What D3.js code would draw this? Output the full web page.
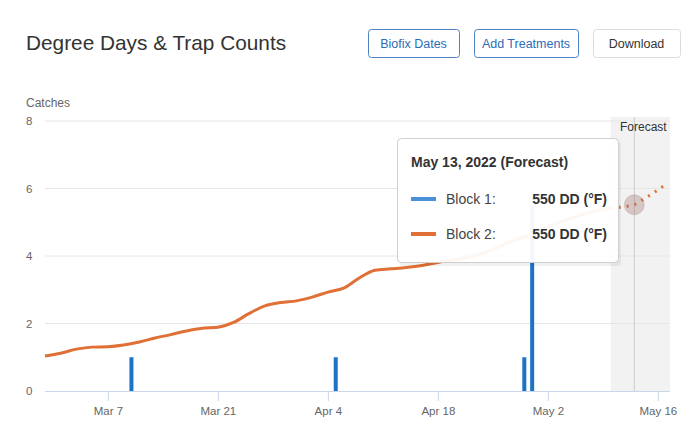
<!DOCTYPE html>
<html><head><meta charset="utf-8">
<script src="https://cdn.jsdelivr.net/npm/d3@7"></script>
<style>
body{margin:0;background:#fff;font-family:"Liberation Sans",Arial,Helvetica,sans-serif;}
svg{display:block;}
</style></head>
<body>
<svg id="chart" width="700" height="445"></svg>
<script>
// ---- data ----
const title = "Degree Days & Trap Counts";
const buttons = ["Biofix Dates", "Add Treatments", "Download"];
const yTicks = [0, 2, 4, 6, 8];
const xTickDates = ["2022-03-07", "2022-03-21", "2022-04-04", "2022-04-18", "2022-05-02", "2022-05-16"];
const trapDates = ["2022-03-10", "2022-04-05", "2022-04-29", "2022-04-30"];
const trapCounts = [1, 1, 1, 5.5];
const ddDates = ["2022-02-27","2022-03-01","2022-03-03","2022-03-05","2022-03-07","2022-03-09","2022-03-11","2022-03-13","2022-03-15","2022-03-17","2022-03-19","2022-03-21","2022-03-23","2022-03-25","2022-03-27","2022-03-29","2022-03-31","2022-04-02","2022-04-04","2022-04-06","2022-04-08","2022-04-10","2022-04-12","2022-04-14","2022-04-16","2022-04-18","2022-04-21","2022-04-24","2022-04-27","2022-04-30","2022-05-03","2022-05-06","2022-05-08","2022-05-10"];
const ddBlock2 = [104,112,124,130,131,136,145,157,167,178,186,189,203,230,252,262,267,278,293,305,335,358,362,366,372,381,392,410,440,465,495,520,533,542];
const ddBlock1 = ddBlock2.slice();
const fcDates = ["2022-05-10","2022-05-11","2022-05-12","2022-05-13","2022-05-14","2022-05-15","2022-05-16","2022-05-17"];
const fcBlock2 = [542,544,547,552,566,580,596,612];
const forecastStart = "2022-05-10";
const hoverDate = "2022-05-13";
const tooltipTitle = "May 13, 2022 (Forecast)";
const tooltipRows = [["Block 1:", "550 DD (°F)"], ["Block 2:", "550 DD (°F)"]];
const colors = {block1: "#4a90d9", block2: "#e07035", bars: "#1b74c5"};

// ---- setup ----
const parse = d3.timeParse("%Y-%m-%d");
const svg = d3.select("#chart");
const L = 45, R = 670, T = 121, B = 391;
const x = d3.scaleTime().domain([parse("2022-02-27"), new Date(2022, 4, 17, 13)]).range([L, R]);
const y = d3.scaleLinear().domain([0, 8]).range([B, T]);
const yDD = d3.scaleLinear().domain([0, 800]).range([B, T]);

// title
svg.append("text").attr("x", 26).attr("y", 50).attr("font-size", 20.8).attr("fill", "#333").text(title);

// buttons
const btnX = [368, 474, 593], btnW = [91, 104, 87];
buttons.forEach((b, i) => {
  const g = svg.append("g").attr("transform", `translate(${btnX[i]},29)`);
  const blue = i < 2;
  g.append("rect").attr("x", 0.5).attr("y", 0.5).attr("width", btnW[i]).attr("height", 28).attr("rx", 3)
    .attr("fill", "#fff").attr("stroke", blue ? "#4f82c0" : "#dcdcdc");
  g.append("text").attr("x", btnW[i] / 2).attr("y", 19).attr("text-anchor", "middle")
    .attr("font-size", 12.5).attr("fill", blue ? "#2d6db5" : "#333").text(b);
});

// forecast band
const fx = x(parse(forecastStart));
svg.append("rect").attr("x", fx).attr("y", 117).attr("width", R - fx).attr("height", B - 117).attr("fill", "#f2f2f2");

// grid
svg.append("g").selectAll("line").data(yTicks.filter(d => d > 0)).join("line")
  .attr("x1", L).attr("x2", R).attr("y1", d => y(d)).attr("y2", d => y(d))
  .attr("stroke", "#e6e6e6").attr("stroke-width", 1);

// y labels
svg.append("text").attr("x", 26).attr("y", 107).attr("font-size", 12).attr("fill", "#666").text("Catches");
svg.append("g").selectAll("text").data(yTicks).join("text")
  .attr("x", 26).attr("y", d => y(d) + 4).attr("font-size", 11.5).attr("fill", "#666").text(d => d);

// x axis
const xAxis = d3.axisBottom(x).tickValues(xTickDates.map(parse)).tickFormat(d3.timeFormat("%b %-d")).tickSize(10).tickPadding(6);
const gx = svg.append("g").attr("transform", `translate(0,${B})`).call(xAxis);
gx.select(".domain").attr("stroke", "#ccd6eb").attr("d", `M${L},0.5H${R}`);
gx.selectAll(".tick line").attr("stroke", "#ccd6eb");
gx.selectAll(".tick text").attr("fill", "#666").attr("font-size", 11.5).attr("font-family", "'Liberation Sans',Arial,sans-serif");

// crosshair
const hx = x(parse(hoverDate));
svg.append("line").attr("x1", hx).attr("x2", hx).attr("y1", 117).attr("y2", B).attr("stroke", "#cccccc").attr("stroke-width", 1);
svg.append("text").attr("x", 620).attr("y", 131).attr("font-size", 12).attr("fill", "#333").text("Forecast");

// bars
svg.append("g").selectAll("rect").data(trapDates.map((d, i) => ({d: parse(d), v: trapCounts[i]}))).join("rect")
  .attr("x", d => x(d.d) - 2).attr("width", 4).attr("y", d => y(d.v)).attr("height", d => B - y(d.v))
  .attr("fill", colors.bars);

// lines
const line = d3.line().x(d => x(d.d)).y(d => yDD(d.v)).curve(d3.curveMonotoneX);
const d1 = ddDates.map((d, i) => ({d: parse(d), v: ddBlock1[i]}));
const d2 = ddDates.map((d, i) => ({d: parse(d), v: ddBlock2[i]}));
const f2 = fcDates.map((d, i) => ({d: parse(d), v: fcBlock2[i]}));
svg.append("path").datum(d1).attr("d", line).attr("fill", "none").attr("stroke", colors.block1).attr("stroke-width", 1.2);
svg.append("path").datum(d2).attr("d", line).attr("fill", "none").attr("stroke", colors.block2).attr("stroke-width", 3);
svg.append("path").datum(f2).attr("d", line).attr("fill", "none").attr("stroke", colors.block2)
  .attr("stroke-width", 3).attr("stroke-dasharray", "2,6");

// hover marker
const hv = f2.find(d => +d.d === +parse(hoverDate));
svg.append("circle").attr("cx", hx).attr("cy", yDD(hv.v)).attr("r", 10)
  .attr("fill", "rgba(150,95,95,0.3)").attr("stroke", "rgba(150,95,95,0.2)");

// tooltip
const tip = svg.append("g").attr("transform", "translate(397,138)");
tip.append("rect").attr("x", 2).attr("y", 3).attr("width", 222).attr("height", 125).attr("rx", 4).attr("fill", "rgba(0,0,0,0.06)");
tip.append("rect").attr("x", 0.5).attr("y", 0.5).attr("width", 221).attr("height", 124).attr("rx", 4)
  .attr("fill", "rgba(255,255,255,0.95)").attr("stroke", "#cfcfcf");
tip.append("text").attr("x", 14).attr("y", 29).attr("font-size", 14).attr("font-weight", "bold").attr("fill", "#333").text(tooltipTitle);
tooltipRows.forEach((r, i) => {
  const yy = 61 + i * 35;
  tip.append("line").attr("x1", 14).attr("x2", 39).attr("y1", yy).attr("y2", yy)
    .attr("stroke", i === 0 ? colors.block1 : colors.block2).attr("stroke-width", 4);
  tip.append("text").attr("x", 49).attr("y", yy + 5).attr("font-size", 14).attr("fill", "#444").text(r[0]);
  tip.append("text").attr("x", 210).attr("y", yy + 5).attr("text-anchor", "end").attr("font-size", 14).attr("font-weight", "bold").attr("fill", "#333").text(r[1]);
});
</script>
</body></html>
